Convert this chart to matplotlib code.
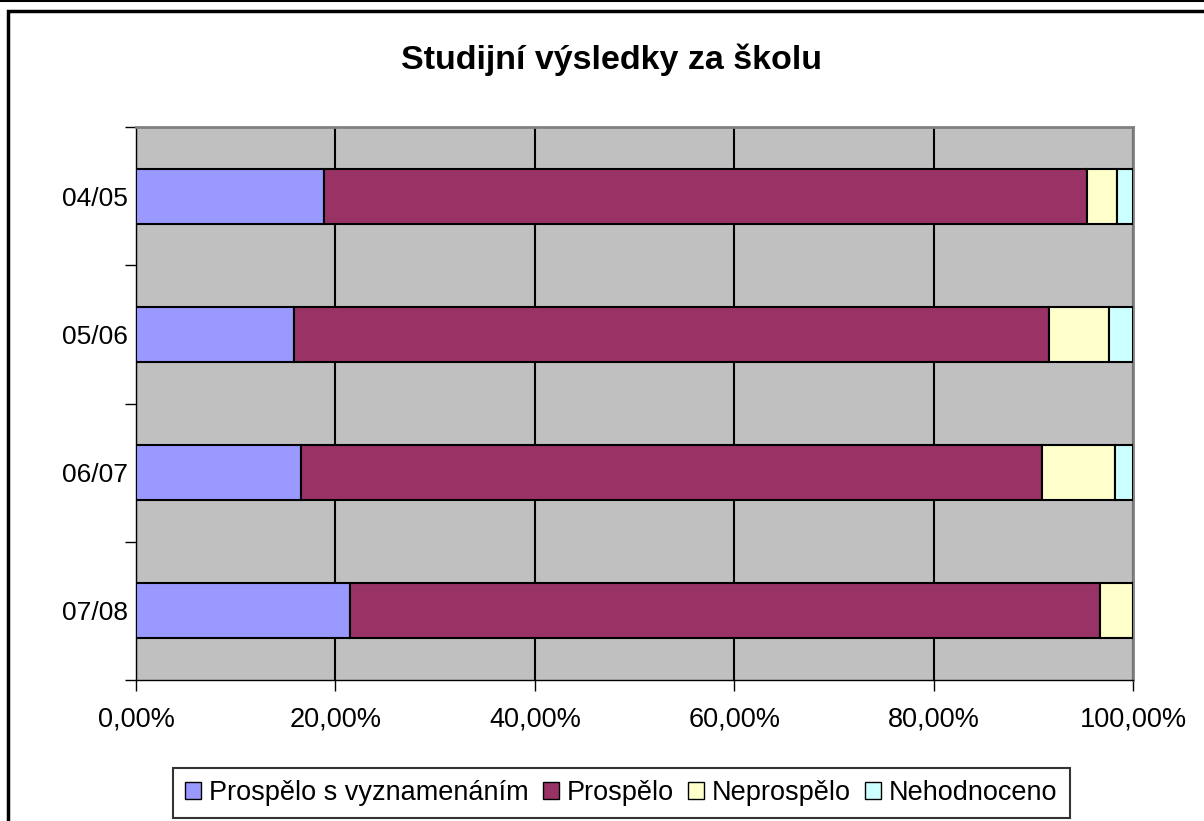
import numpy as np
import matplotlib.pyplot as plt
from matplotlib.patches import Rectangle
from matplotlib.lines import Line2D
from matplotlib.ticker import FuncFormatter

plt.rcParams['font.family'] = ['Liberation Sans', 'DejaVu Sans']

# data (percent of pupils per school year)
years = ["04/05", "05/06", "06/07", "07/08"]
series = ["Prospělo s vyznamenáním", "Prospělo", "Neprospělo", "Nehodnoceno"]
s_vyznamenanim = [18.9, 15.85, 16.5, 21.45]
prospelo = [76.45, 75.7, 74.4, 75.25]
neprospelo = [3.05, 6.0, 7.3, 3.3]
nehodnoceno = [1.6, 2.45, 1.8, 0.0]
colors = ["#9999FF", "#993366", "#FFFFCC", "#CCFFFF"]

vals = np.array([s_vyznamenanim, prospelo, neprospelo, nehodnoceno])
vals = vals / vals.sum(axis=0) * 100

fig = plt.figure(figsize=(12.04, 8.21), dpi=100)
ax = fig.add_axes([0.113, 0.172, 0.828, 0.673])
ax.set_facecolor("#C0C0C0")

y = np.arange(len(years))
left = np.zeros(len(years))
handles = []
for i, name in enumerate(series):
    bars = ax.barh(y, vals[i], left=left, height=0.4, color=colors[i],
                   edgecolor="black", linewidth=1.5, label=name, zorder=3)
    left += vals[i]
    handles.append(bars)

ax.set_xlim(0, 100)
ax.set_ylim(3.5, -0.5)
ax.set_xticks(np.arange(0, 101, 20))
ax.xaxis.set_major_formatter(FuncFormatter(lambda v, p: f"{v:.2f}%".replace(".", ",")))
ax.set_yticks(y)
ax.set_yticklabels(years)
ax.set_yticks(np.arange(-0.5, 3.6, 1), minor=True)
ax.tick_params(axis="y", which="major", length=0, pad=6, labelsize=19)
ax.tick_params(axis="y", which="minor", length=8, width=1, color="black")
ax.tick_params(axis="x", length=8, width=1, pad=11, labelsize=19.5)
ax.grid(axis="x", color="black", linewidth=1.5, zorder=1)
ax.set_axisbelow(True)
for s in ["top", "right"]:
    ax.spines[s].set_color("#808080")
    ax.spines[s].set_linewidth(2)
for s in ["left", "bottom"]:
    ax.spines[s].set_color("black")
    ax.spines[s].set_linewidth(1)

fig.text(0.508, 0.927, "Studijní výsledky za školu", ha="center", va="center",
         fontsize=24.5, fontweight="bold")

leg = fig.legend(handles=handles, labels=series, loc="center", ncol=4,
                 bbox_to_anchor=(0.516, 0.034), fontsize=19.5, frameon=True,
                 fancybox=False, edgecolor="black", handlelength=0.6,
                 handleheight=0.6, handletextpad=0.3, columnspacing=0.5,
                 borderpad=0.45, borderaxespad=0)
leg.get_frame().set_linewidth(1.5)
for h in leg.legend_handles:
    h.set_linewidth(1)

# chart frame
fig.patches.append(Rectangle((8 / 1204, -0.1), 1.1, 1.1 - 11 / 821,
                             transform=fig.transFigure, fill=False,
                             edgecolor="black", linewidth=2.5))
fig.lines.append(Line2D([0, 1], [0.999, 0.999], transform=fig.transFigure,
                        color="black", linewidth=1.5))

fig.savefig("out.png", dpi=100)
